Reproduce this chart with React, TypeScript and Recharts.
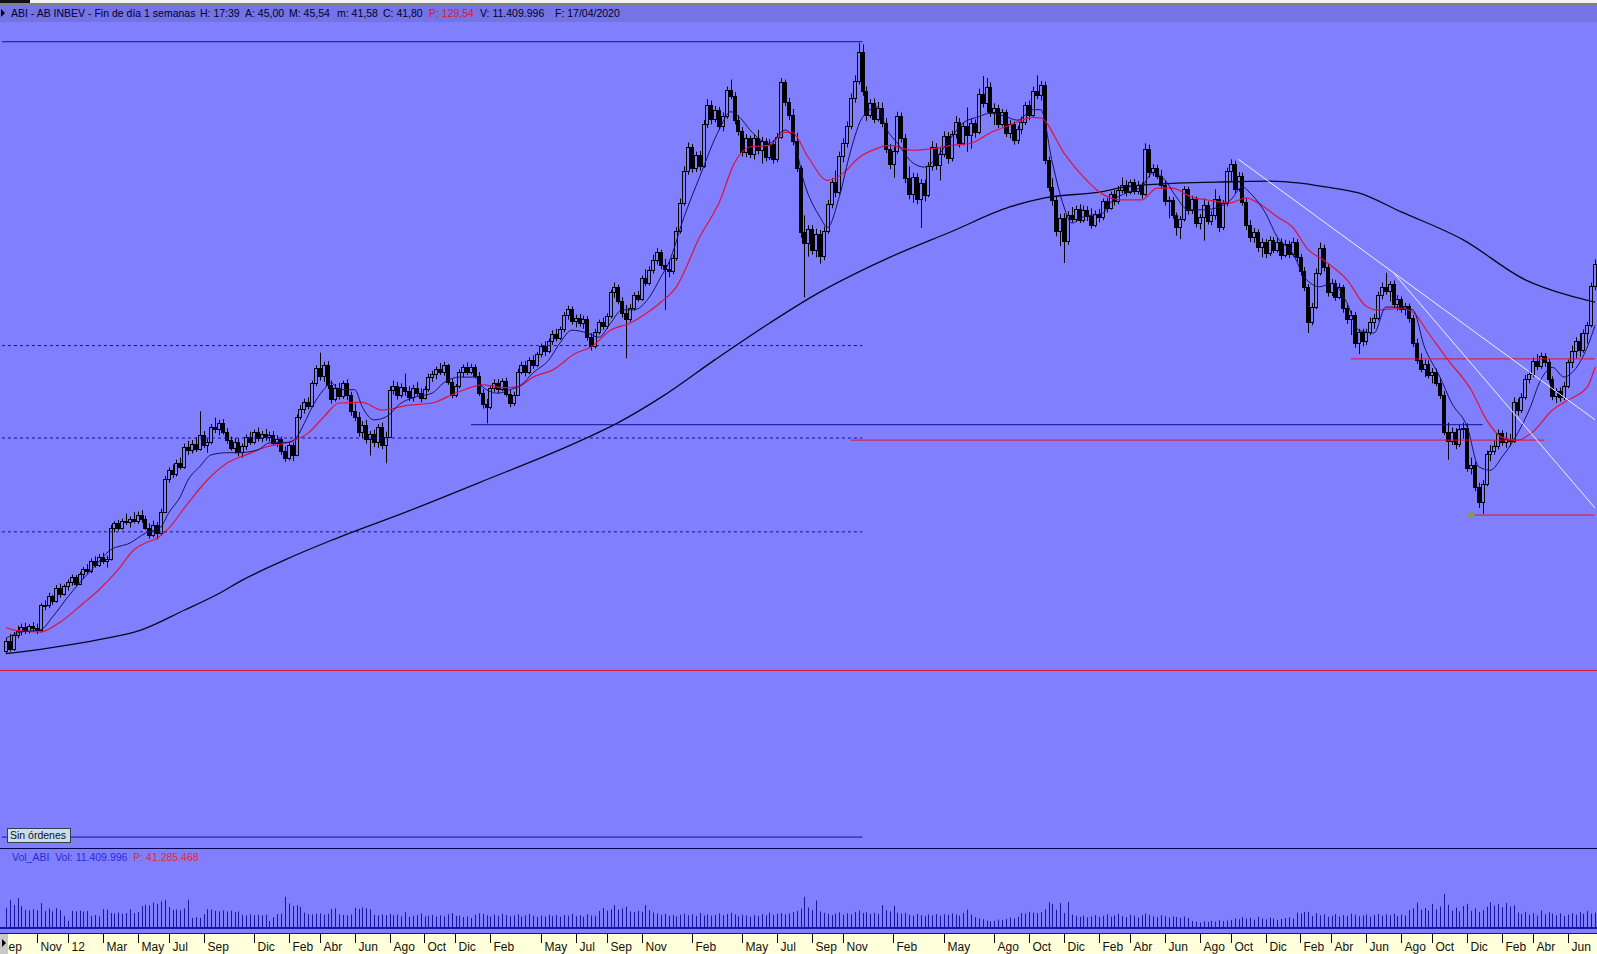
import React from "react";
import {
  ComposedChart,
  Bar,
  Line,
  XAxis,
  YAxis,
  ReferenceLine,
  ReferenceDot,
} from "recharts";

// weekly bars [open, high, low, close, volume in millions], first week 12/09/2011
const w2011 = [
  [37.0, 38.8, 36.6, 38.4, 9.6], [38.4, 39.4, 36.9, 37.3, 13.5], [37.3, 39.7, 37.0, 39.3, 11.0], [39.3, 40.6, 38.8, 39.8, 14.4],
  [39.8, 40.9, 39.2, 40.4, 10.5], [40.4, 41.0, 39.4, 39.9, 8.7], [39.9, 40.8, 39.5, 40.5, 8.4], [40.5, 41.1, 39.8, 40.2, 9.0],
  [40.2, 40.9, 39.4, 40.0, 8.5], [40.0, 43.8, 39.6, 43.5, 12.0], [43.5, 44.2, 42.8, 43.6, 8.2], [43.6, 45.3, 43.1, 44.8, 9.4],
  [44.8, 45.0, 43.6, 44.1, 8.0], [44.1, 46.4, 43.9, 46.0, 9.6], [46.0, 46.6, 44.6, 45.1, 8.6], [45.1, 46.5, 44.9, 46.2, 5.8],
];
const w2012 = [
  [46.2, 47.2, 45.6, 46.9, 3.4], [46.9, 47.9, 46.3, 47.5, 8.2], [47.5, 47.8, 46.2, 46.6, 8.0], [46.6, 48.3, 46.4, 48.0, 8.4],
  [48.0, 49.0, 47.4, 48.7, 7.9], [48.7, 49.4, 48.0, 48.4, 8.2], [48.4, 50.2, 48.1, 49.8, 5.8], [49.8, 50.5, 48.9, 49.3, 6.2],
  [49.3, 50.8, 49.0, 50.4, 5.6], [50.4, 51.0, 49.4, 49.8, 9.1], [49.8, 50.6, 48.9, 50.1, 8.8], [50.1, 55.0, 49.9, 54.6, 7.2],
  [54.6, 55.5, 53.9, 55.2, 7.0], [55.2, 55.7, 54.2, 54.6, 7.4], [54.6, 55.9, 54.3, 55.6, 6.8], [55.6, 56.6, 55.0, 55.4, 7.2],
  [55.4, 56.2, 54.6, 55.9, 9.0], [55.9, 56.8, 55.2, 55.5, 7.1], [55.5, 56.9, 55.1, 56.4, 7.6], [56.4, 57.1, 55.3, 55.8, 10.6],
  [55.8, 56.3, 54.3, 54.6, 11.2], [54.6, 55.2, 53.0, 53.6, 10.8], [53.6, 55.6, 53.2, 55.0, 12.2], [55.0, 55.4, 52.9, 53.8, 11.6],
  [53.8, 57.3, 53.5, 56.9, 12.8], [56.9, 62.0, 56.7, 61.6, 13.5], [61.6, 63.2, 61.0, 62.8, 10.0], [62.8, 63.6, 61.7, 62.2, 8.7],
  [62.2, 64.3, 61.9, 63.9, 8.9], [63.9, 64.6, 62.9, 63.3, 8.5], [63.3, 66.6, 63.0, 66.1, 9.4], [66.1, 67.0, 65.0, 65.7, 13.5],
  [65.7, 67.1, 65.2, 66.6, 4.8], [66.6, 67.5, 65.4, 65.9, 5.2], [65.9, 71.2, 65.6, 67.8, 4.9], [67.8, 68.4, 66.0, 66.4, 6.6],
  [66.4, 67.3, 65.3, 66.9, 9.1], [66.9, 69.4, 66.5, 69.0, 8.8], [69.0, 70.3, 68.1, 68.7, 8.2], [68.7, 70.0, 67.8, 69.6, 8.0],
  [69.6, 70.1, 67.9, 68.3, 8.4], [68.3, 68.8, 66.6, 67.1, 7.9], [67.1, 67.6, 65.6, 66.0, 8.3], [66.0, 67.4, 65.2, 66.8, 7.6],
  [66.8, 67.3, 64.8, 65.4, 8.0], [65.4, 66.6, 64.6, 66.2, 6.3], [66.2, 67.9, 65.7, 67.5, 6.0], [67.5, 68.3, 66.4, 66.9, 6.6],
  [66.9, 68.6, 66.5, 68.2, 6.2], [68.2, 68.9, 66.9, 67.4, 6.4], [67.4, 68.4, 66.8, 68.0, 6.0], [68.0, 68.7, 67.0, 67.6, 6.3],
  [67.6, 68.3, 66.9, 67.9, 3.4],
];
const w2013 = [
  [67.9, 68.4, 66.3, 66.7, 5.2], [66.7, 67.8, 66.1, 67.3, 6.7], [67.3, 67.6, 65.0, 65.6, 6.9], [65.6, 66.2, 64.0, 64.6, 15.0],
  [64.6, 66.9, 64.2, 66.4, 11.8], [66.4, 66.8, 64.1, 65.0, 10.6], [65.0, 70.8, 64.8, 70.4, 10.9], [70.4, 72.1, 70.0, 71.6, 10.2],
  [71.6, 73.0, 70.9, 72.6, 7.4], [72.6, 73.2, 71.5, 72.0, 6.7], [72.0, 75.6, 71.8, 75.2, 6.5], [75.2, 77.8, 74.8, 77.4, 6.9],
  [77.4, 79.6, 75.6, 76.2, 7.0], [76.2, 78.3, 75.4, 77.9, 6.4], [77.9, 78.4, 74.4, 75.0, 6.8], [75.0, 75.6, 72.3, 73.0, 9.1],
  [73.0, 75.1, 72.6, 74.6, 9.4], [74.6, 75.3, 72.9, 73.4, 6.6], [73.4, 75.6, 73.0, 75.2, 6.3], [75.2, 75.8, 72.8, 73.6, 6.1],
  [73.6, 74.0, 70.6, 71.2, 6.5], [71.2, 72.3, 69.8, 70.4, 9.6], [70.4, 71.1, 67.6, 68.3, 9.2], [68.3, 69.8, 67.4, 69.3, 9.9],
  [69.3, 70.0, 66.6, 67.2, 9.5], [67.2, 68.4, 64.9, 68.0, 9.0], [68.0, 68.6, 66.1, 66.8, 6.3], [66.8, 69.4, 66.0, 69.0, 6.0],
  [69.0, 69.6, 65.8, 66.4, 6.5], [66.4, 68.3, 63.8, 67.6, 6.2], [67.6, 74.8, 67.4, 74.3, 6.8], [74.3, 75.6, 73.6, 74.9, 6.1],
  [74.9, 75.4, 72.9, 73.5, 6.4], [73.5, 75.2, 73.1, 74.7, 5.6], [74.7, 76.6, 73.4, 74.1, 7.6], [74.1, 74.8, 72.7, 73.2, 5.4],
  [73.2, 75.0, 72.6, 74.6, 5.8], [74.6, 75.4, 73.4, 73.9, 6.2], [73.9, 74.5, 72.5, 73.1, 7.0], [73.1, 74.8, 72.9, 74.4, 5.5],
  [74.4, 76.6, 74.0, 76.1, 5.9], [76.1, 77.0, 75.4, 76.5, 6.3], [76.5, 77.6, 75.8, 77.3, 5.6], [77.3, 78.1, 76.4, 76.9, 6.1],
  [76.9, 78.3, 76.3, 77.8, 5.7], [77.8, 78.0, 75.0, 75.4, 6.6], [75.4, 75.9, 73.1, 73.6, 7.2], [73.6, 75.1, 73.2, 74.8, 5.8],
  [74.8, 77.2, 74.5, 76.9, 6.0], [76.9, 77.9, 76.1, 77.5, 5.3], [77.5, 78.2, 76.4, 76.8, 5.6], [76.8, 78.0, 76.5, 77.6, 4.9],
];
const w2014 = [
  [77.6, 77.9, 75.9, 76.3, 6.4], [76.3, 76.8, 73.4, 73.9, 7.0], [73.9, 74.4, 71.6, 72.2, 6.8], [72.2, 73.0, 69.5, 71.8, 6.1],
  [71.8, 74.9, 71.5, 74.5, 5.6], [74.5, 75.8, 74.0, 75.3, 6.5], [75.3, 75.8, 73.8, 74.4, 5.8], [74.4, 75.9, 74.1, 75.6, 6.9],
  [75.6, 76.0, 73.3, 73.7, 6.2], [73.7, 74.2, 71.8, 72.4, 5.7], [72.4, 74.0, 72.0, 73.6, 6.0], [73.6, 77.3, 73.4, 76.9, 6.6],
  [76.9, 78.3, 76.5, 77.8, 5.5], [77.8, 78.4, 76.2, 76.8, 6.1], [76.8, 78.9, 76.5, 78.5, 6.7], [78.5, 79.2, 77.3, 77.9, 5.9],
  [77.9, 79.7, 77.5, 79.4, 5.3], [79.4, 80.9, 78.9, 80.5, 6.0], [80.5, 81.2, 79.1, 79.8, 5.6], [79.8, 81.6, 79.5, 81.2, 6.4],
  [81.2, 82.8, 80.7, 82.3, 5.8], [82.3, 83.0, 81.2, 81.7, 6.2], [81.7, 83.3, 81.4, 82.9, 5.5], [82.9, 85.4, 82.5, 85.0, 6.3],
  [85.0, 86.3, 84.3, 85.8, 5.9], [85.8, 86.2, 83.6, 84.1, 6.8], [84.1, 85.0, 83.2, 84.6, 5.7], [84.6, 85.1, 83.3, 83.8, 6.1],
  [83.8, 84.9, 83.0, 84.4, 5.4], [84.4, 84.8, 81.3, 81.8, 6.6], [81.8, 82.4, 79.9, 80.6, 6.0], [80.6, 83.0, 80.2, 82.6, 5.8],
  [82.6, 84.3, 82.2, 83.9, 8.2], [83.9, 84.6, 82.9, 83.4, 9.6], [83.4, 85.2, 83.0, 84.8, 8.4], [84.8, 88.6, 84.5, 88.2, 9.0],
  [88.2, 89.6, 87.4, 88.9, 11.0], [88.9, 89.3, 86.5, 87.0, 8.8], [87.0, 87.5, 84.6, 85.2, 9.4], [85.2, 86.4, 78.8, 84.4, 10.2],
  [84.4, 86.5, 84.0, 86.0, 8.0], [86.0, 88.2, 85.6, 87.8, 7.6], [87.8, 88.4, 86.9, 87.3, 8.3], [87.3, 90.6, 87.0, 90.2, 7.8],
  [90.2, 91.5, 89.1, 89.6, 11.0], [89.6, 91.9, 89.2, 91.4, 8.6], [91.4, 93.6, 90.9, 92.8, 7.4], [92.8, 94.5, 92.2, 93.9, 7.0],
  [93.9, 94.3, 91.5, 92.1, 6.3], [92.1, 93.0, 85.7, 91.6, 6.8], [91.6, 92.8, 90.4, 91.2, 5.9], [91.2, 93.6, 90.8, 93.1, 6.2],
];
const w2015 = [
  [93.1, 97.5, 92.7, 97.0, 5.6], [97.0, 101.6, 96.6, 101.0, 6.4], [101.0, 106.2, 100.6, 105.6, 6.9], [105.6, 109.6, 105.0, 108.9, 6.1],
  [108.9, 109.4, 105.3, 106.0, 6.6], [106.0, 108.3, 105.4, 107.8, 5.8], [107.8, 108.4, 105.6, 106.3, 7.2], [106.3, 112.8, 106.0, 112.3, 6.0],
  [112.3, 115.8, 111.7, 115.0, 6.5], [115.0, 115.6, 112.2, 112.9, 5.9], [112.9, 114.8, 112.5, 114.2, 6.3], [114.2, 114.7, 111.4, 112.0, 7.0],
  [112.0, 113.9, 111.2, 113.4, 6.2], [113.4, 117.6, 113.0, 117.1, 6.8], [117.1, 118.6, 115.8, 116.3, 7.3], [116.3, 116.8, 112.2, 112.8, 6.6],
  [112.8, 113.5, 110.6, 111.2, 5.7], [111.2, 111.8, 107.6, 108.2, 6.4], [108.2, 110.8, 107.5, 110.2, 6.0], [110.2, 110.6, 107.4, 108.0, 5.5],
  [108.0, 110.8, 107.2, 110.3, 6.2], [110.3, 111.4, 107.9, 108.6, 5.8], [108.6, 110.4, 106.6, 109.8, 6.7], [109.8, 110.2, 106.9, 107.5, 6.1],
  [107.5, 110.1, 107.1, 109.4, 7.4], [109.4, 109.9, 106.6, 107.3, 6.3], [107.3, 111.0, 106.8, 110.4, 6.8], [110.4, 118.8, 110.1, 118.2, 7.2],
  [118.2, 118.6, 114.8, 115.4, 6.5], [115.4, 116.0, 112.8, 113.6, 7.0], [113.6, 114.4, 109.2, 109.8, 7.6], [109.8, 111.0, 105.4, 105.9, 8.2],
  [105.9, 106.3, 96.0, 96.8, 9.4], [96.8, 99.2, 87.5, 95.2, 15.0], [95.2, 97.8, 93.3, 97.2, 9.8], [97.2, 97.8, 93.6, 94.3, 8.6],
  [94.3, 97.3, 93.2, 96.5, 13.2], [96.5, 97.1, 92.3, 93.4, 8.0], [93.4, 97.6, 92.8, 97.0, 7.3], [97.0, 101.4, 96.6, 100.8, 6.8],
  [100.8, 104.5, 100.2, 103.9, 6.2], [103.9, 105.6, 101.8, 102.6, 6.9], [102.6, 108.3, 102.2, 107.7, 7.5], [107.7, 110.2, 106.8, 109.6, 6.4],
  [109.6, 112.6, 108.9, 112.0, 7.1], [112.0, 116.6, 111.5, 116.0, 6.6], [116.0, 119.2, 115.3, 118.4, 7.8], [118.4, 123.8, 117.9, 122.6, 8.4],
  [122.6, 123.6, 116.3, 117.0, 7.2], [117.0, 117.6, 112.7, 113.5, 7.6], [113.5, 115.8, 113.1, 115.2, 6.8], [115.2, 115.9, 112.4, 113.0, 7.3],
];
const w2016 = [
  [113.0, 115.4, 112.6, 114.6, 6.7], [114.6, 115.3, 111.8, 112.4, 11.0], [112.4, 113.1, 108.1, 108.7, 8.6], [108.7, 109.4, 105.8, 106.5, 8.0],
  [106.5, 109.1, 104.6, 108.4, 10.6], [108.4, 114.0, 108.0, 113.4, 7.4], [113.4, 113.9, 109.6, 110.2, 6.9], [110.2, 110.8, 103.8, 104.5, 7.3],
  [104.5, 106.2, 101.5, 102.2, 6.4], [102.2, 105.3, 101.0, 104.7, 6.0], [104.7, 105.2, 100.8, 101.6, 6.8], [101.6, 104.4, 97.4, 103.8, 6.2],
  [103.8, 104.3, 101.2, 102.1, 5.8], [102.1, 106.8, 101.8, 106.3, 6.5], [106.3, 109.8, 105.6, 108.9, 6.1], [108.9, 109.5, 105.7, 106.4, 6.7],
  [106.4, 108.8, 104.2, 108.0, 5.9], [108.0, 111.2, 107.5, 110.6, 6.6], [110.6, 111.1, 106.6, 107.4, 6.3], [107.4, 111.3, 106.9, 110.8, 7.0],
  [110.8, 113.4, 110.2, 112.6, 6.4], [112.6, 113.1, 108.9, 109.6, 6.0], [109.6, 112.5, 109.2, 111.9, 7.2], [111.9, 114.6, 108.3, 110.7, 8.8],
  [110.7, 113.0, 108.7, 112.4, 6.5], [112.4, 112.9, 110.3, 111.1, 5.2], [111.1, 117.3, 110.8, 116.6, 4.6], [116.6, 119.1, 114.6, 115.3, 4.2],
  [115.3, 118.8, 113.9, 117.6, 3.6], [117.6, 118.2, 113.3, 114.0, 3.2], [114.0, 115.2, 112.1, 114.6, 3.5], [114.6, 115.0, 111.7, 112.3, 4.1],
  [112.3, 114.4, 111.9, 113.9, 3.8], [113.9, 114.3, 110.4, 111.0, 4.4], [111.0, 112.8, 110.2, 112.2, 5.0], [112.2, 112.6, 109.3, 109.9, 4.6],
  [109.9, 112.0, 109.4, 111.5, 5.4], [111.5, 113.3, 110.8, 112.6, 7.2], [112.6, 115.4, 112.1, 114.9, 7.0], [114.9, 115.6, 112.8, 113.6, 7.8],
  [113.6, 117.6, 113.1, 117.0, 7.4], [117.0, 119.2, 115.8, 116.4, 7.1], [116.4, 118.4, 115.6, 117.8, 7.6], [117.8, 118.3, 106.5, 107.1, 9.0],
  [107.1, 107.6, 102.6, 103.2, 12.4], [103.2, 104.5, 100.6, 101.4, 11.6], [101.4, 102.0, 96.2, 97.0, 8.8], [97.0, 99.4, 94.8, 98.8, 12.0],
  [98.8, 99.5, 92.4, 95.5, 7.2], [95.5, 99.8, 95.0, 99.3, 12.4], [99.3, 100.4, 98.2, 98.7, 6.4], [98.7, 100.6, 98.3, 100.1, 5.8],
];
const w2017 = [
  [100.1, 100.8, 98.1, 98.6, 5.4], [98.6, 100.6, 98.2, 100.0, 5.9], [100.0, 100.5, 98.4, 99.1, 5.1], [99.1, 100.2, 97.3, 97.8, 5.6],
  [97.8, 99.9, 97.5, 99.4, 6.2], [99.4, 100.1, 98.2, 98.9, 5.3], [98.9, 101.6, 98.5, 101.2, 5.8], [101.2, 101.7, 99.6, 100.3, 6.6],
  [100.3, 102.6, 100.0, 102.2, 5.5], [102.2, 102.8, 100.6, 101.2, 6.1], [101.2, 103.4, 100.8, 102.8, 6.8], [102.8, 104.6, 102.4, 103.6, 5.7],
  [103.6, 104.2, 101.9, 102.6, 5.2], [102.6, 104.3, 102.2, 103.9, 6.4], [103.9, 104.4, 102.2, 102.7, 5.9], [102.7, 104.1, 102.2, 103.5, 5.0],
  [103.5, 103.9, 101.6, 102.3, 6.1], [102.3, 109.5, 102.0, 108.7, 7.0], [108.7, 109.3, 104.6, 105.4, 6.3], [105.4, 106.5, 104.8, 105.9, 5.6],
  [105.9, 106.4, 104.4, 104.8, 5.2], [104.8, 105.7, 103.0, 103.6, 6.2], [103.6, 104.2, 100.6, 101.2, 5.8], [101.2, 101.9, 98.8, 101.4, 5.0],
  [101.4, 101.8, 98.7, 99.2, 5.6], [99.2, 99.6, 96.3, 97.6, 5.3], [97.6, 99.1, 95.8, 98.7, 4.9], [98.7, 103.4, 98.3, 102.9, 5.5],
  [102.9, 103.3, 99.3, 99.9, 4.8], [99.9, 102.0, 99.4, 101.5, 3.4], [101.5, 101.9, 97.5, 98.1, 3.0], [98.1, 99.4, 97.2, 98.9, 2.6],
  [98.9, 101.6, 95.6, 100.7, 3.2], [100.7, 101.2, 97.9, 98.4, 2.9], [98.4, 99.8, 97.8, 99.3, 3.5], [99.3, 102.9, 98.6, 101.6, 3.1],
  [101.6, 102.0, 96.8, 97.5, 3.8], [97.5, 101.4, 97.1, 100.9, 3.3], [100.9, 106.0, 100.5, 105.5, 3.6], [105.5, 107.2, 104.1, 106.6, 3.9],
  [106.6, 107.0, 102.4, 103.0, 4.6], [103.0, 105.4, 102.6, 104.8, 4.2], [104.8, 105.3, 100.6, 101.1, 5.2], [101.1, 101.6, 97.1, 97.8, 4.4],
  [97.8, 98.5, 95.4, 96.1, 4.9], [96.1, 97.4, 95.3, 96.8, 4.1], [96.8, 97.2, 94.0, 94.7, 5.4], [94.7, 95.9, 93.2, 95.4, 4.6],
  [95.4, 95.8, 93.1, 93.8, 4.2], [93.8, 96.2, 93.4, 95.7, 5.0], [95.7, 96.1, 93.8, 94.3, 4.5], [94.3, 96.0, 93.9, 95.4, 3.8],
];
const w2018 = [
  [95.4, 95.9, 92.9, 93.6, 4.3], [93.6, 95.7, 93.2, 95.1, 4.8], [95.1, 95.6, 93.1, 93.7, 5.1], [93.7, 96.0, 93.3, 95.4, 4.5],
  [95.4, 95.8, 92.6, 93.2, 7.4], [93.2, 93.7, 90.6, 91.3, 7.0], [91.3, 91.8, 88.4, 89.0, 7.6], [89.0, 89.4, 82.4, 84.0, 7.8],
  [84.0, 86.7, 83.5, 86.1, 5.8], [86.1, 91.6, 85.8, 91.0, 7.2], [91.0, 95.3, 90.6, 94.6, 6.1], [94.6, 95.0, 91.2, 91.8, 6.6],
  [91.8, 92.3, 87.6, 88.3, 5.4], [88.3, 90.1, 87.7, 89.6, 5.9], [89.6, 90.0, 87.0, 87.6, 6.7], [87.6, 89.5, 87.2, 88.9, 5.6],
  [88.9, 89.3, 85.3, 85.9, 6.2], [85.9, 86.4, 83.7, 84.4, 5.8], [84.4, 85.6, 82.1, 85.0, 6.9], [85.0, 85.4, 80.3, 81.0, 6.4],
  [81.0, 83.0, 79.4, 82.5, 5.7], [82.5, 83.0, 80.5, 81.2, 6.0], [81.2, 83.0, 80.7, 82.6, 6.5], [82.6, 84.6, 82.1, 83.9, 5.5],
  [83.9, 85.1, 83.0, 84.6, 6.3], [84.6, 88.3, 84.2, 87.8, 6.8], [87.8, 89.6, 87.2, 88.9, 5.9], [88.9, 91.0, 87.9, 88.4, 6.6],
  [88.4, 89.8, 86.9, 89.4, 6.1], [89.4, 89.9, 86.0, 86.6, 6.9], [86.6, 87.8, 85.6, 87.2, 5.8], [87.2, 87.6, 85.3, 85.8, 6.4],
  [85.8, 86.7, 84.9, 86.2, 6.0], [86.2, 86.6, 83.9, 84.6, 8.6], [84.6, 85.0, 80.4, 81.0, 9.4], [81.0, 81.6, 78.0, 78.6, 12.2],
  [78.6, 79.5, 76.8, 77.3, 8.8], [77.3, 78.6, 76.1, 78.0, 9.6], [78.0, 78.5, 75.9, 76.4, 8.4], [76.4, 77.4, 75.2, 76.9, 11.6],
  [76.9, 77.3, 74.8, 75.3, 9.0], [75.3, 75.9, 73.0, 73.6, 10.4], [73.6, 74.1, 67.8, 68.3, 16.3], [68.3, 69.6, 64.3, 67.0, 11.2],
  [67.0, 68.9, 66.4, 68.3, 8.4], [68.3, 68.8, 65.8, 66.5, 9.8], [66.5, 69.3, 66.1, 68.7, 8.0], [68.7, 69.6, 67.3, 68.9, 10.6],
  [68.9, 69.5, 62.6, 63.1, 11.6], [63.1, 64.6, 62.2, 63.6, 8.2], [63.6, 64.0, 59.8, 60.4, 9.4], [60.4, 61.0, 57.4, 58.2, 7.8],
  [58.2, 61.4, 56.6, 60.9, 8.6],
];
const w2019 = [
  [60.9, 65.6, 60.5, 65.1, 10.2], [65.1, 66.4, 64.1, 65.6, 12.4], [65.6, 67.0, 65.0, 66.2, 10.8], [66.2, 68.6, 65.8, 68.1, 11.6],
  [68.1, 68.5, 66.3, 66.8, 10.0], [66.8, 68.2, 66.0, 67.2, 12.0], [67.2, 68.0, 66.2, 67.0, 10.4], [67.0, 73.2, 66.7, 72.6, 10.9],
  [72.6, 73.0, 70.6, 71.4, 7.4], [71.4, 73.8, 71.0, 73.3, 6.8], [73.3, 76.4, 72.9, 75.9, 7.8], [75.9, 77.0, 75.2, 76.5, 6.4],
  [76.5, 78.9, 76.1, 78.4, 7.2], [78.4, 79.4, 77.1, 77.7, 6.0], [77.7, 79.6, 77.3, 79.1, 8.4], [79.1, 79.5, 77.6, 78.2, 6.6],
  [78.2, 78.7, 75.2, 75.8, 7.6], [75.8, 76.2, 72.8, 73.4, 6.9], [73.4, 74.5, 72.4, 74.1, 6.2], [74.1, 74.6, 72.6, 73.2, 7.0],
  [73.2, 75.4, 72.8, 74.9, 5.8], [74.9, 78.6, 74.5, 78.2, 6.5], [78.2, 80.6, 77.4, 79.9, 7.1], [79.9, 81.8, 78.8, 81.2, 6.4],
  [81.2, 82.4, 79.0, 80.0, 7.6], [80.0, 82.9, 79.6, 82.4, 6.8], [82.4, 84.0, 80.9, 83.6, 8.2], [83.6, 89.6, 83.2, 89.1, 6.9],
  [89.1, 92.9, 88.5, 92.2, 7.4],
];

// moving averages: [week number, value]
const maFast = [
  [0, 38.8], [4, 39.7], [9, 40.0], [12, 41.8], [16, 44.7], [19, 46.7], [22, 48.5], [27, 51.4], [32, 52.4], [36, 53.8],
  [40, 54.7], [42, 56.7], [45, 59.0], [47, 61.4], [50, 63.3], [53, 65.0], [57, 65.3], [60, 65.3], [65, 65.7], [68, 66.7],
  [73, 66.8], [75, 67.5], [77, 69.5], [79, 71.8], [82, 74.3], [84, 75.3], [86, 74.3], [90, 74.3], [92, 71.8], [95, 70.0],
  [98, 70.4], [102, 72.4], [106, 73.3], [110, 73.8], [113, 75.3], [117, 76.1], [121, 76.1], [123, 74.7], [127, 73.8], [130, 74.3],
  [133, 75.0], [136, 76.7], [140, 78.5], [143, 81.0], [146, 82.8], [150, 82.4], [153, 81.8], [156, 83.8], [159, 85.7], [162, 85.7],
  [166, 87.5], [169, 90.4], [171, 92.4], [175, 99.0], [179, 104.7], [184, 111.4], [187, 114.0], [190, 112.8], [192, 111.4], [197, 109.5],
  [201, 111.4], [203, 110.4], [206, 103.8], [210, 99.0], [212, 97.5], [215, 101.8], [218, 108.5], [221, 113.2], [225, 114.7], [227, 111.8],
  [230, 109.5], [234, 106.7], [237, 106.1], [241, 108.1], [244, 110.4], [247, 112.4], [251, 113.3], [254, 113.8], [258, 113.3], [261, 112.8],
  [265, 114.3], [267, 114.3], [270, 106.7], [273, 100.4], [275, 98.1], [278, 99.0], [283, 99.5], [285, 101.0], [289, 102.4], [293, 103.3],
  [296, 105.3], [299, 104.3], [302, 101.8], [305, 100.0], [309, 100.0], [313, 100.4], [316, 101.4], [319, 103.3], [321, 102.4], [325, 99.5],
  [328, 96.1], [332, 93.8], [335, 90.4], [339, 89.0], [342, 89.5], [346, 86.7], [349, 82.8], [353, 82.4], [356, 86.1], [358, 86.1],
  [363, 85.7], [366, 80.4], [370, 76.1], [373, 72.4], [377, 69.0], [380, 63.3], [383, 62.8], [386, 64.7], [389, 67.1], [393, 71.4],
  [396, 75.7], [399, 77.5], [402, 76.1], [404, 76.7], [408, 80.4], [410, 83.5],
];
const maMid = [
  [0, 40.3], [3, 39.9], [9, 39.7], [14, 41.1], [20, 43.8], [24, 45.7], [29, 48.6], [33, 51.4], [36, 52.4], [39, 53.1],
  [42, 54.5], [47, 58.1], [52, 61.4], [57, 63.8], [62, 65.0], [67, 66.1], [73, 66.8], [78, 68.1], [82, 70.4], [86, 72.4],
  [92, 72.5], [97, 71.4], [104, 72.1], [110, 72.4], [116, 73.8], [123, 75.0], [128, 74.6], [132, 74.7], [136, 76.1], [141, 77.1],
  [147, 79.5], [151, 80.4], [156, 82.8], [161, 83.8], [166, 85.5], [169, 86.8], [173, 89.0], [179, 96.1], [184, 101.0], [188, 106.7],
  [192, 109.0], [197, 109.2], [201, 111.1], [203, 111.0], [207, 107.5], [212, 104.2], [216, 105.2], [220, 107.4], [225, 108.8], [228, 109.2],
  [234, 108.5], [240, 108.8], [244, 109.2], [249, 109.5], [254, 111.0], [259, 112.1], [265, 113.2], [267, 113.1], [273, 108.1], [278, 104.7],
  [283, 102.2], [288, 101.4], [293, 101.4], [297, 103.1], [301, 103.1], [306, 101.8], [310, 101.4], [316, 101.0], [320, 101.7], [323, 101.0],
  [328, 99.0], [332, 97.5], [336, 94.3], [340, 92.8], [346, 90.0], [351, 86.2], [354, 85.7], [360, 85.9], [363, 85.4], [367, 82.4],
  [372, 78.6], [378, 74.3], [382, 70.0], [386, 67.5], [390, 67.1], [394, 68.3], [399, 71.4], [403, 72.8], [408, 74.7], [410, 77.5],
];
const maSlow = [
  [0, 36.6], [11, 37.4], [24, 38.6], [35, 40.0], [46, 42.8], [55, 45.2], [61, 47.1], [72, 50.0], [84, 52.8], [104, 57.0],
  [122, 61.0], [149, 67.2], [158, 69.6], [169, 73.2], [183, 78.6], [197, 83.8], [208, 87.6], [228, 93.2], [244, 96.9], [259, 100.4],
  [268, 101.7], [283, 102.6], [289, 103.3], [302, 103.8], [316, 104.0], [326, 104.1], [334, 103.8], [340, 103.3], [349, 102.4], [360, 99.7],
  [376, 95.7], [392, 90.0], [403, 87.8], [410, 86.8],
];

// drawn levels and trendlines (prices), with week numbers where they start/end
const peakLevel = 124.0;
const gridLevels = [80.6, 67.4, 54.0];
const floorLevel = 34.2;
const ordersLevel = 10.4;
const blueSupport = 69.3;
const redSupport = 67.1;
const redResistance = 78.7;
const redLow = 56.4;
const trendA = [[318, 107.2], [410, 70.0]];
const trendB = [[358, 91.0], [410, 57.4]];

const tickMonths = [
  "2011-09", "2011-11", "2012-01", "2012-03", "2012-05", "2012-07", "2012-09", "2012-12", "2013-02", "2013-04", "2013-06",
  "2013-08", "2013-10", "2013-12", "2014-02", "2014-05", "2014-07", "2014-09", "2014-11", "2015-02", "2015-05", "2015-07",
  "2015-09", "2015-11", "2016-02", "2016-05", "2016-08", "2016-10", "2016-12", "2017-02", "2017-04", "2017-06", "2017-08",
  "2017-10", "2017-12", "2018-02", "2018-04", "2018-06", "2018-08", "2018-10", "2018-12", "2019-02", "2019-04", "2019-06",
];
const tickLabels = [
  "Sep", "Nov", "12", "Mar", "May", "Jul", "Sep", "Dic", "Feb", "Abr", "Jun",
  "Ago", "Oct", "Dic", "Feb", "May", "Jul", "Sep", "Nov", "Feb", "May", "Jul",
  "Sep", "Nov", "Feb", "May", "Ago", "Oct", "Dic", "Feb", "Abr", "Jun", "Ago",
  "Oct", "Dic", "Feb", "Abr", "Jun", "Ago", "Oct", "Dic", "Feb", "Abr", "Jun",
];

const BG = "#8080FF";
const W = 1597;
const FONT = "'Liberation Sans', Arial, sans-serif";
const VOL = "#1616A6";

// one empty leading week (05/09/2011) so the cut "Sep" tick has a slot
const lead = Date.UTC(2011, 8, 5);
const weekKey = (n: number) => new Date(lead + n * 7 * 86400000).toISOString().slice(0, 10);

const weeks = [w2011, w2012, w2013, w2014, w2015, w2016, w2017, w2018, w2019].flat();
const rows: any[] = [{ d: weekKey(0) }];
weeks.forEach(([o, h, l, c, v], i) => {
  rows.push({ d: weekKey(i + 1), o, hi: h, lo: l, c, range: [l, h], v });
});
const put = (pts: number[][], k: string) => pts.forEach(([i, val]) => { rows[i + 1][k] = val; });
put(maFast, "fast");
put(maMid, "mid");
put(maSlow, "slow");
const wk = (i: number) => rows[i + 1].d;

const tickKeys: string[] = [];
const tickText: Record<string, string> = {};
tickMonths.forEach((m, j) => {
  const r = rows.find((row) => row.d.startsWith(m));
  if (r) {
    tickKeys.push(r.d);
    tickText[r.d] = tickLabels[j];
  }
});

const Candle = (props: any) => {
  const { x, y, width, height, payload } = props;
  if (!payload || payload.hi == null) return null;
  const { o, c, hi, lo } = payload;
  const top = Math.min(y, y + height);
  const h = Math.abs(height);
  const span = hi - lo || 1;
  const py = (p: number) => top + ((hi - p) / span) * h;
  const cx = Math.round(x + width / 2);
  const bTop = Math.round(py(Math.max(o, c))) + 0.5;
  const bBot = Math.max(bTop + 1, Math.round(py(Math.min(o, c))) + 0.5);
  const up = c >= o;
  return (
    <g>
      <line x1={cx + 0.5} x2={cx + 0.5} y1={top} y2={top + h} stroke="#000" strokeWidth={1} />
      <rect x={cx - 1.5} y={bTop} width={3} height={bBot - bTop} fill={up ? BG : "#000"} stroke="#000" strokeWidth={1} />
    </g>
  );
};

const VolBar = (props: any) => {
  const { x, y, width, height } = props;
  if (!height) return null;
  const cx = Math.round(x + width / 2) + 0.5;
  return <line x1={cx} x2={cx} y1={y} y2={y + height} stroke={VOL} strokeWidth={1} />;
};

const AxisTick = (props: any) => {
  const { x, payload } = props;
  const tx = Math.round(x) + 0.5;
  const first = payload.value === tickKeys[0];
  return (
    <g>
      <line x1={tx} x2={tx} y1={85} y2={94} stroke="#000" strokeWidth={1} />
      <text x={first ? 0.5 : tx + 3} y={102} fontSize={12} fill="#111" fontFamily={FONT}>
        {tickText[payload.value]}
      </text>
    </g>
  );
};

const Square = (p: any) => <rect x={p.cx - 2.5} y={p.cy - 2.5} width={5} height={5} fill="#8E9A2C" />;

const abs = (l: number, t: number, extra: React.CSSProperties = {}): React.CSSProperties => ({
  position: "absolute",
  left: l,
  top: t,
  ...extra,
});

const headerParts: [number, string, string][] = [
  [11, "ABI - AB INBEV - Fin de día 1 semanas", "#000030"],
  [200, "H: 17:39", "#000030"],
  [245, "A: 45,00", "#000030"],
  [289, "M: 45,54", "#000030"],
  [337, "m: 41,58", "#000030"],
  [383, "C: 41,80", "#000030"],
  [429, "P: 129,54", "#E01828"],
  [480, "V: 11.409.996", "#000030"],
  [555, "F: 17/04/2020", "#000030"],
];

export default function App() {
  return (
    <div style={abs(0, 0, { width: W, height: 954, background: BG, overflow: "hidden", fontFamily: FONT })}>
      <div style={abs(0, 0, { width: W, height: 3, background: "#F2F2EE" })} />
      <div style={abs(0, 0, { width: 30, height: 3, background: "#111" })} />
      <div style={abs(0, 3, { width: W, height: 2, background: "#808080" })} />
      <div style={abs(0, 5, { width: W, height: 17, background: "#7474E4" })} />
      <svg style={abs(0, 9)} width={6} height={9}>
        <polygon points="1,0 5,4 1,8" fill="#000" />
      </svg>
      {headerParts.map(([x, t, col]) => (
        <span key={t} style={abs(x, 7, { fontSize: 10.5, color: col, whiteSpace: "pre", lineHeight: "13px" })}>
          {t}
        </span>
      ))}

      <div style={abs(0, 22)}>
        <ComposedChart width={W} height={827} data={rows} margin={{ top: 0, right: 0, bottom: 0, left: 0 }} barCategoryGap={0}>
          <XAxis dataKey="d" hide />
          <YAxis hide domain={[8.7, 126.82]} allowDataOverflow />
          <Bar dataKey="range" shape={Candle} isAnimationActive={false} />
          <Line dataKey="slow" type="monotone" stroke="#06061C" strokeWidth={1.3} dot={false} connectNulls isAnimationActive={false} />
          <Line dataKey="mid" type="monotone" stroke="#E0103C" strokeWidth={1.2} dot={false} connectNulls isAnimationActive={false} />
          <Line dataKey="fast" type="monotone" stroke="#17105A" strokeWidth={1} dot={false} connectNulls isAnimationActive={false} />
          <ReferenceLine segment={[{ x: wk(-1), y: peakLevel }, { x: wk(221), y: peakLevel }]} stroke="#1010A0" strokeWidth={1} />
          {gridLevels.map((g) => (
            <ReferenceLine key={g} segment={[{ x: wk(-1), y: g }, { x: wk(221), y: g }]} stroke="#12128A" strokeDasharray="3 3" strokeWidth={1} />
          ))}
          <ReferenceLine segment={[{ x: wk(-1), y: ordersLevel }, { x: wk(221), y: ordersLevel }]} stroke="#1010A0" strokeWidth={1} />
          <ReferenceLine y={floorLevel} stroke="#E01030" strokeWidth={1} />
          <ReferenceLine segment={[{ x: wk(120), y: blueSupport }, { x: wk(381), y: blueSupport }]} stroke="#1010A0" strokeWidth={1} />
          <ReferenceLine segment={[{ x: wk(218), y: redSupport }, { x: wk(397), y: redSupport }]} stroke="#E01030" strokeWidth={1} />
          <ReferenceLine segment={[{ x: wk(347), y: redResistance }, { x: wk(410), y: redResistance }]} stroke="#E01030" strokeWidth={1} />
          <ReferenceLine segment={[{ x: wk(379), y: redLow }, { x: wk(410), y: redLow }]} stroke="#E01030" strokeWidth={1} />
          <ReferenceLine segment={[{ x: wk(trendA[0][0]), y: trendA[0][1] }, { x: wk(trendA[1][0]), y: trendA[1][1] }]} stroke="#F2F2FA" strokeWidth={1} />
          <ReferenceLine segment={[{ x: wk(trendB[0][0]), y: trendB[0][1] }, { x: wk(trendB[1][0]), y: trendB[1][1] }]} stroke="#F2F2FA" strokeWidth={1} />
          <ReferenceDot x={wk(378)} y={redLow} r={3} shape={Square} />
        </ComposedChart>
      </div>

      <div style={abs(0, 848, { width: W, height: 1, background: "#000050" })} />
      <div style={abs(0, 933, { width: W, height: 21, background: "#FFFFD9", borderTop: "1px solid #202020" })} />

      <div style={abs(0, 849)}>
        <ComposedChart width={W} height={105} data={rows} margin={{ top: 0, right: 0, bottom: 0, left: 0 }} barCategoryGap={0}>
          <XAxis dataKey="d" ticks={tickKeys} interval={0} tick={AxisTick} tickLine={false} axisLine={false} height={26} />
          <YAxis hide domain={[0, 38]} />
          <Bar dataKey="v" shape={VolBar} isAnimationActive={false} />
          <ReferenceLine y={0} stroke={VOL} strokeWidth={2} />
        </ComposedChart>
      </div>

      <div style={abs(12, 851, { fontSize: 10.5, lineHeight: "13px", whiteSpace: "pre" })}>
        <span style={{ color: "#2A2AD2" }}>Vol_ABI  Vol: 11.409.996  </span>
        <span style={{ color: "#E02830" }}>P: 41.285.468</span>
      </div>

      <div
        style={abs(7, 828, {
          width: 60,
          height: 13,
          background: "#C8DDEE",
          border: "1px solid #3A3A4A",
          fontSize: 10.5,
          lineHeight: "13px",
          color: "#111",
          paddingLeft: 2,
          whiteSpace: "nowrap",
        })}
      >
        Sin órdenes
      </div>

      <div style={abs(0, 934, { width: 8, height: 20, background: "#C8C8C8" })}>
        <svg width={8} height={20}>
          <polygon points="2,5 6,9 2,13" fill="#000" />
        </svg>
      </div>
    </div>
  );
}
